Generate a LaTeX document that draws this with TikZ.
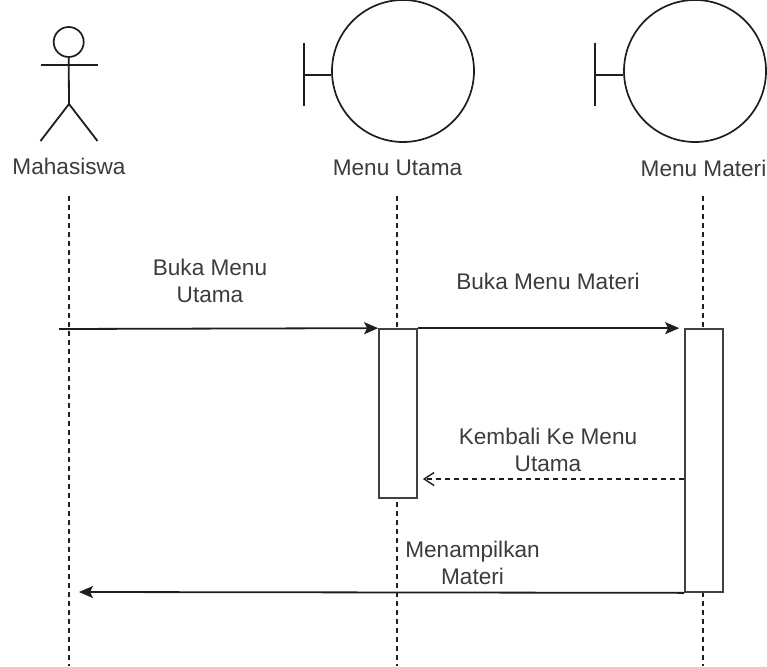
\documentclass[tikz,border=0pt]{standalone}
\usepackage{fontspec}
\setmainfont{Liberation Sans}
\usetikzlibrary{arrows.meta}
\definecolor{ink}{HTML}{1E1E1E}
\definecolor{txt}{HTML}{3C3C3C}
\tikzset{x=1pt,y=-1pt,
 ln/.style={draw=ink,line width=1.8pt},
 life/.style={draw=ink,line width=1.5pt,dash pattern=on 4.5pt off 4.5pt},
 bar/.style={draw=ink!85,fill=white,line width=1.7pt,minimum width=38pt,inner sep=0pt},
 lbl/.style={text=txt,font=\fontsize{22.6}{27.5}\selectfont,align=center,inner sep=0pt},
 circ/.style={draw=ink,line width=1.7pt,circle,inner sep=0pt,fill=white},
 msg/.style={draw=ink,line width=1.8pt,-{Stealth[length=14pt,width=12pt,inset=3pt]}},
 ret/.style={draw=ink,line width=1.4pt,dash pattern=on 5pt off 4pt,-{Straight Barb[length=10pt,width=13pt]}}}
\begin{document}
\begin{tikzpicture}
\useasboundingbox (0,0) rectangle (767,666);
\fill[white] (0,0) rectangle (767,666);
% actor
\node[circ,minimum size=30pt] (head) at (68.7,42) {};
\coordinate (hip) at (69,104);
\coordinate (armL) at (40.5,65);
\coordinate (armR) at (97.5,65);
\coordinate (footL) at (40.5,141);
\coordinate (footR) at (97.5,141);
\draw[ln] (head.south) -- (hip);
\draw[ln] (armL) -- (armR);
\draw[ln] (footL) -- (hip) -- (footR);
\node[lbl] (mhs) at (69,166) {Mahasiswa};
% boundaries
\node[circ,minimum size=142pt] (b1) at (403,71) {};
\coordinate (b1t) at (304,43); \coordinate (b1b) at (304,106); \coordinate (b1m) at (304,75);
\draw[ln] (b1t) -- (b1b);
\draw[ln] (b1m) -- (b1.west|-b1m);
\node[lbl] (mu) at (397.5,168) {Menu Utama};
\node[circ,minimum size=142pt] (b2) at (695,71) {};
\coordinate (b2t) at (595,43); \coordinate (b2b) at (595,106); \coordinate (b2m) at (595,75);
\draw[ln] (b2t) -- (b2b);
\draw[ln] (b2m) -- (b2.west|-b2m);
\node[lbl] (mm) at (703.5,168) {Menu Materi};
% lifelines
\coordinate (e1) at (69,666); \coordinate (e2) at (397,666); \coordinate (e3) at (703,666);
\coordinate (s1) at (69,196); \coordinate (s2) at (397,196); \coordinate (s3) at (703,196);
\draw[life] (s1) -- (e1);
\draw[life] (s2) -- (e2);
\draw[life] (s3) -- (e3);
% activation bars
\node[bar,minimum height=169pt] (a1) at (398,413.5) {};
\node[bar,minimum height=263pt] (a2) at (704,460.5) {};
% messages
\coordinate (start) at (59,329);
\coordinate (end) at (79,592);
\draw[msg] (start) -- (a1.north west);
\draw[msg,shorten >=5pt] (a1.north east) -- (a2.north west);
\draw[ret,shorten >=5pt] (a2.west|-0,479) -- (a1.east|-0,479);
\draw[msg] (a2.south west) -- (end);
\node[lbl] at (210,281) {Buka Menu\\Utama};
\node[lbl] at (548,281) {Buka Menu Materi};
\node[lbl] at (548,450) {Kembali Ke Menu\\Utama};
\node[lbl] at (472.5,563) {Menampilkan\\Materi};
\end{tikzpicture}
\end{document}
